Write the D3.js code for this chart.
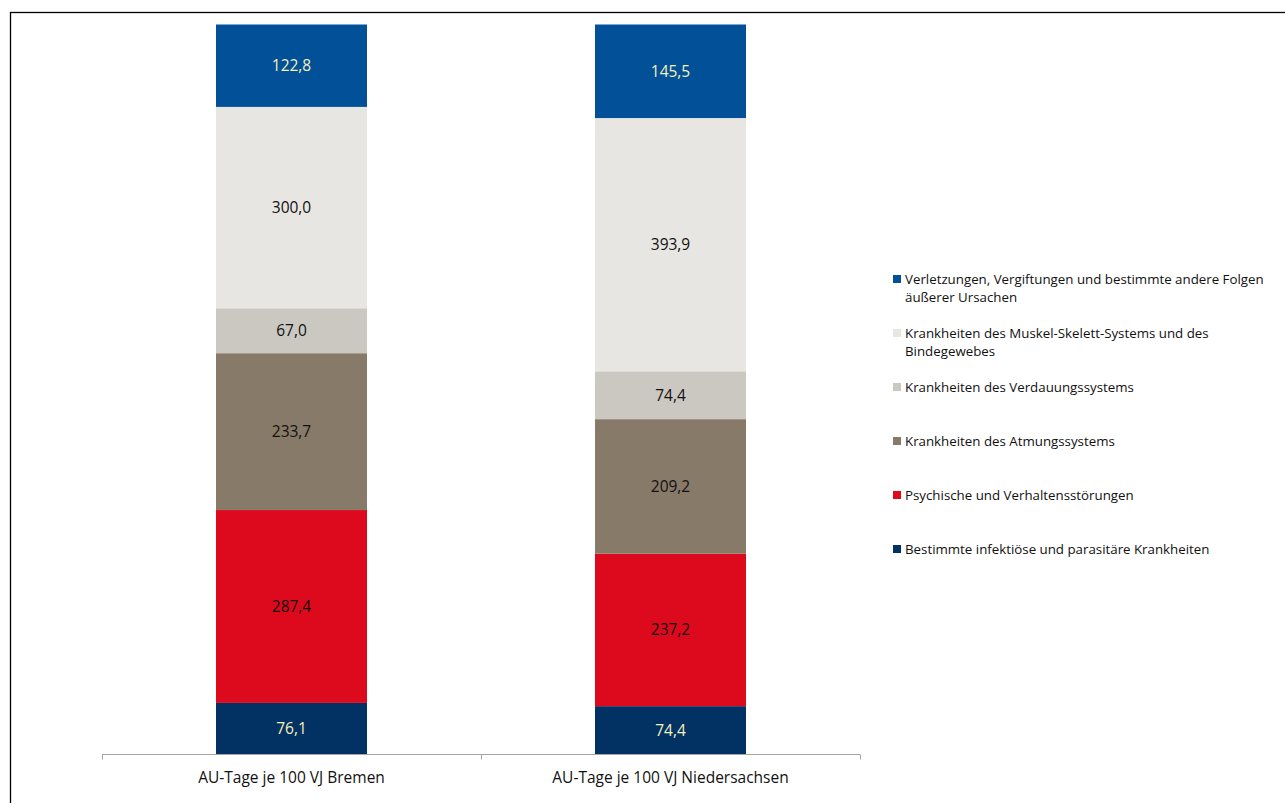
<!DOCTYPE html>
<html>
<head>
<meta charset="utf-8">
<script src="https://cdn.jsdelivr.net/npm/d3@7"></script>
<style>
  html, body { margin: 0; padding: 0; background: #fff; }
  svg { display: block; font-family: "Open Sans", "Noto Sans", sans-serif; }
</style>
</head>
<body>
<svg id="chart" width="1285" height="803"></svg>
<script>
// Regions on the x axis
const categories = ["AU-Tage je 100 VJ Bremen", "AU-Tage je 100 VJ Niedersachsen"];

// Diagnosis groups, bottom of the stack first
const seriesNames = [
  "Bestimmte infektiöse und parasitäre Krankheiten",
  "Psychische und Verhaltensstörungen",
  "Krankheiten des Atmungssystems",
  "Krankheiten des Verdauungssystems",
  "Krankheiten des Muskel-Skelett-Systems und des Bindegewebes",
  "Verletzungen, Vergiftungen und bestimmte andere Folgen äußerer Ursachen"
];

// AU-Tage je 100 VJ per diagnosis group (same order as seriesNames)
const bremenValues        = [76.1, 287.4, 233.7, 67.0, 300.0, 122.8];
const niedersachsenValues = [74.4, 237.2, 209.2, 74.4, 393.9, 145.5];

const seriesColors = ["#023263", "#DD0A1E", "#877A68", "#CBC8C1", "#E8E6E2", "#025198"];
const labelColors  = ["#F5F0B8", "#111", "#111", "#111", "#111", "#F5F0B8"];

// Legend lists the top segment first
const legendLines = [
  ["Verletzungen, Vergiftungen und bestimmte andere Folgen", "äußerer Ursachen"],
  ["Krankheiten des Muskel-Skelett-Systems und des", "Bindegewebes"],
  ["Krankheiten des Verdauungssystems"],
  ["Krankheiten des Atmungssystems"],
  ["Psychische und Verhaltensstörungen"],
  ["Bestimmte infektiöse und parasitäre Krankheiten"]
];

const svg = d3.select("#chart");

// Outer frame
svg.append("rect")
  .attr("x", 10.5).attr("y", 12.5)
  .attr("width", 1400).attr("height", 900)
  .attr("fill", "none").attr("stroke", "#000").attr("stroke-width", 1.3);

// Build rows and stack as shares of each column's total (100% stacked)
const valuesByCat = [bremenValues, niedersachsenValues];
const rows = categories.map((c, i) => {
  const row = { category: c };
  seriesNames.forEach((s, j) => row[s] = valuesByCat[i][j]);
  return row;
});
const stacked = d3.stack().keys(seriesNames).offset(d3.stackOffsetExpand)(rows);

const x = d3.scaleBand().domain(categories).range([102, 860]).paddingInner(0).paddingOuter(0);
const y = d3.scaleLinear().domain([0, 1]).range([754, 24.5]);
const barWidth = 151;

const layers = svg.append("g").selectAll("g")
  .data(stacked)
  .join("g")
  .attr("fill", (d, i) => seriesColors[i]);

layers.selectAll("rect")
  .data(d => d.map(p => p))
  .join("rect")
  .attr("x", p => x(p.data.category) + x.bandwidth() / 2 - barWidth / 2)
  .attr("width", barWidth)
  .attr("y", p => y(p[1]))
  .attr("height", p => y(p[0]) - y(p[1]));

// Value labels in each segment
const fmt = v => d3.format(".1f")(v).replace(".", ",");
stacked.forEach((layer, i) => {
  svg.append("g").selectAll("text")
    .data(layer)
    .join("text")
    .attr("x", p => x(p.data.category) + x.bandwidth() / 2)
    .attr("y", p => (y(p[0]) + y(p[1])) / 2)
    .attr("dy", "0.35em")
    .attr("text-anchor", "middle")
    .attr("font-size", 15.5)
    .attr("fill", labelColors[i])
    .text(p => fmt(p.data[layer.key]));
});

// Category axis
const axis = svg.append("g").attr("transform", "translate(0,754.5)");
axis.append("line")
  .attr("x1", 102).attr("x2", 860)
  .attr("stroke", "#A6A6A6").attr("stroke-width", 1);
const tickXs = [x.range()[0], ...categories.map(c => x(c) + x.bandwidth())];
axis.selectAll("line.tick")
  .data(tickXs)
  .join("line")
  .attr("class", "tick")
  .attr("x1", d => Math.round(d) + 0.5).attr("x2", d => Math.round(d) + 0.5)
  .attr("y1", 0).attr("y2", 5)
  .attr("stroke", "#A6A6A6");
axis.selectAll("text")
  .data(categories)
  .join("text")
  .attr("x", c => x(c) + x.bandwidth() / 2)
  .attr("y", 23)
  .attr("dy", "0.35em")
  .attr("text-anchor", "middle")
  .attr("font-size", 15.5)
  .attr("fill", "#111")
  .text(c => c);

// Legend
const legend = svg.append("g").attr("transform", "translate(893,279)");
legendLines.forEach((lines, k) => {
  const colorIdx = seriesColors.length - 1 - k;
  const g = legend.append("g").attr("transform", `translate(0,${k * 54})`);
  g.append("rect")
    .attr("x", 0).attr("y", -4).attr("width", 8).attr("height", 8)
    .attr("fill", seriesColors[colorIdx]);
  lines.forEach((t, li) => {
    g.append("text")
      .attr("x", 12).attr("y", li * 18)
      .attr("dy", "0.35em")
      .attr("font-size", 13.3)
      .attr("fill", "#111")
      .text(t);
  });
});
</script>
</body>
</html>
